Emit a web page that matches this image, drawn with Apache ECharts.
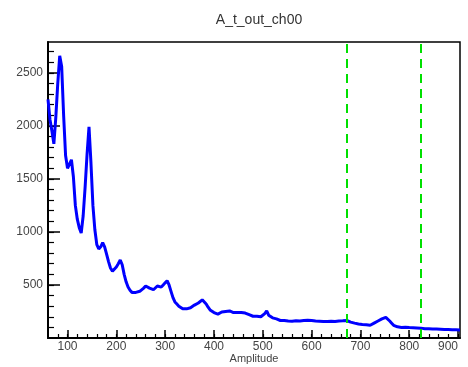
<!DOCTYPE html>
<html>
<head>
<meta charset="utf-8">
<script src="https://cdn.jsdelivr.net/npm/echarts@6/dist/echarts.min.js"></script>
<style>html,body{margin:0;padding:0;background:#fff}#c{width:468px;height:367px}</style>
</head>
<body>
<div id="c"></div>
<script>
// Histogram binning (bin centres start at 60, width 4)
var binStart = 60;
var binWidth = 4;
var counts = [
  2250, 2060, 1950, 1830, 2080, 2400, 2660, 2560, 2100, 1720,
  1600, 1640, 1680, 1520, 1250, 1120, 1040, 990, 1150, 1420,
  1730, 1990, 1650, 1250, 1020, 880, 840, 860, 900, 860,
  790, 720, 660, 630, 640, 670, 700, 735, 690, 600,
  530, 480, 450, 430, 420, 430, 425, 440, 455, 470,
  490, 500, 470, 480, 455, 470, 490, 475, 480, 500,
  520, 540, 500, 440, 380, 340, 320, 300, 285, 275,
  270, 275, 280, 285, 300, 310, 320, 330, 345, 360,
  345, 320, 290, 265, 250, 240, 230, 225, 235, 245,
  240, 250, 240, 255, 245, 240, 250, 240, 235, 240,
  230, 235, 225, 220, 210, 205, 200, 205, 195, 200,
  210, 230, 255, 215, 200, 190, 185, 180, 170, 165,
  160, 165, 155, 160, 165, 158, 170, 162, 168, 160,
  172, 165, 175, 168, 172, 165, 170, 160, 168, 158,
  162, 155, 160, 156, 165, 158, 162, 155, 165, 160,
  168, 162, 170, 165, 160, 150, 145, 140, 138, 132,
  135, 128, 122, 125, 118, 120, 130, 140, 150, 160,
  172, 180, 190, 195, 180, 160, 140, 120, 110, 105,
  102, 100, 98, 102, 96, 98, 94, 97, 92, 95,
  90, 93, 90, 88, 92, 87, 90, 85, 88, 84,
  86, 82, 85, 80, 83, 79, 82, 78, 80, 77,
  79, 76
];
var cutLines = [673, 823];
var xTickLabels = [100, 200, 300, 400, 500, 600, 700, 800, 900];
var xMinorTicks = [80,100,120,140,160,180,200,220,240,260,280,300,320,340,360,380,400,420,440,460,480,500,520,540,560,580,600,620,640,660,680,700,720,740,760,780,800,820,840,860,880,900];
var yTickLabels = [500, 1000, 1500, 2000, 2500];
var yMinorTicks = [100,200,300,400,500,600,700,800,900,1000,1100,1200,1300,1400,1500,1600,1700,1800,1900,2000,2100,2200,2300,2400,2500,2600,2700];
var titleText = 'A_t_out_ch00';
var xName = 'Amplitude';

var data = counts.map(function (v, i) { return [binStart + i * binWidth, v]; });
var FONT = '"Liberation Sans", Arial, Helvetica, sans-serif';
function plain(v) { return String(v); }

var chart = echarts.init(document.getElementById('c'));
chart.setOption({
  animation: false,
  backgroundColor: '#fff',
  title: {
    text: titleText, left: 254, top: 8, textAlign: 'center',
    textStyle: { fontFamily: FONT, fontSize: 14, fontWeight: 'normal', color: '#333' }
  },
  grid: {
    left: 48, top: 42, width: 412, height: 296,
    show: true, borderColor: '#000', borderWidth: 1.5,
    outerBoundsMode: 'none', containLabel: false
  },
  xAxis: [{
    type: 'value', min: 60, max: 904, position: 'bottom',
    name: xName, nameLocation: 'middle', nameGap: 15, nameMoveOverlap: false,
    nameTextStyle: { fontFamily: FONT, fontSize: 11, color: '#444' },
    axisLine: { show: true, onZero: false, lineStyle: { color: '#000', width: 2 } },
    axisTick: { show: true, inside: true, length: 8, customValues: xTickLabels, lineStyle: { color: '#000', width: 1.5 } },
    axisLabel: { show: true, customValues: xTickLabels, margin: 3, formatter: plain, fontFamily: FONT, fontSize: 12, color: '#444', alignMaxLabel: 'right' },
    splitLine: { show: false }
  }, {
    type: 'value', min: 60, max: 904, position: 'bottom',
    axisLine: { show: false },
    axisTick: { show: true, inside: true, length: 4, customValues: xMinorTicks, lineStyle: { color: '#000', width: 1.2 } },
    axisLabel: { show: false },
    splitLine: { show: false }
  }],
  yAxis: [{
    type: 'value', min: 0, max: 2790, position: 'left',
    axisLine: { show: true, onZero: false, lineStyle: { color: '#000', width: 2 } },
    axisTick: { show: true, inside: true, length: 12, customValues: yTickLabels, lineStyle: { color: '#000', width: 1.5 } },
    axisLabel: { show: true, customValues: yTickLabels, margin: 5, formatter: plain, fontFamily: FONT, fontSize: 12, color: '#444' },
    splitLine: { show: false }
  }, {
    type: 'value', min: 0, max: 2790, position: 'left',
    axisLine: { show: false },
    axisTick: { show: true, inside: true, length: 6, customValues: yMinorTicks, lineStyle: { color: '#000', width: 1.2 } },
    axisLabel: { show: false },
    splitLine: { show: false }
  }],
  series: [{
    type: 'line',
    xAxisIndex: 0, yAxisIndex: 0,
    data: data,
    showSymbol: false,
    lineStyle: { color: '#0000ff', width: 3 },
    z: 3,
    markLine: {
      silent: true,
      symbol: ['none', 'none'],
      label: { show: false },
      lineStyle: { color: '#00e000', type: [9, 6], width: 2 },
      data: cutLines.map(function (v) { return { xAxis: v }; })
    }
  }]
});
</script>
</body>
</html>
